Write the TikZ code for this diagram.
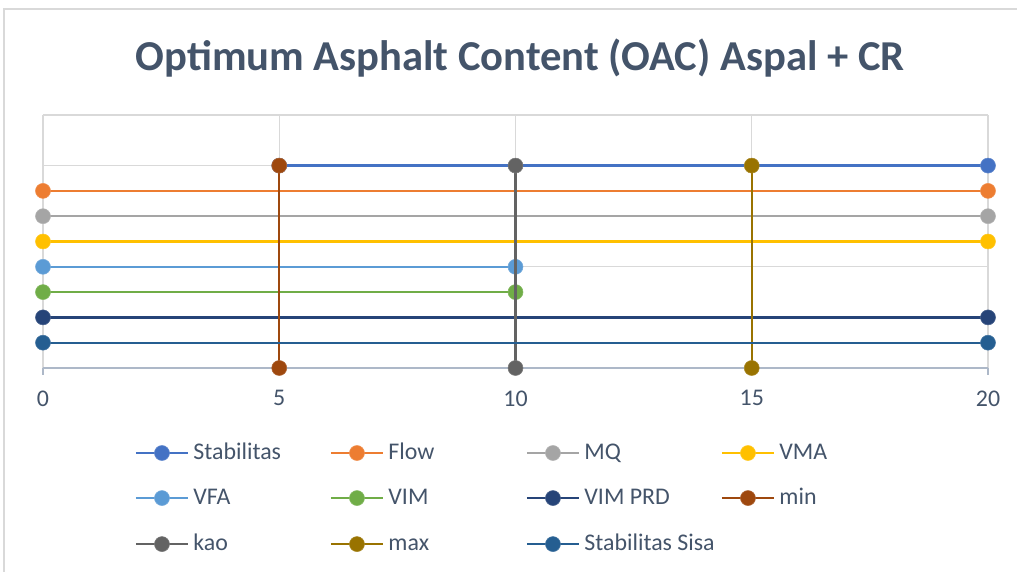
\documentclass[tikz,border=0pt]{standalone}
\usepackage{fontspec}
\setmainfont{Carlito}
\usetikzlibrary{positioning}

\definecolor{stabcol}{HTML}{4472C4}
\definecolor{flowcol}{HTML}{ED7D31}
\definecolor{mqcol}{HTML}{A5A5A5}
\definecolor{vmacol}{HTML}{FFC000}
\definecolor{vfacol}{HTML}{5B9BD5}
\definecolor{vimcol}{HTML}{70AD47}
\definecolor{prdcol}{HTML}{264478}
\definecolor{mincol}{HTML}{9E480E}
\definecolor{kaocol}{HTML}{636363}
\definecolor{maxcol}{HTML}{997300}
\definecolor{sisacol}{HTML}{255E91}
\definecolor{gridcol}{HTML}{D9D9D9}
\definecolor{axiscol}{HTML}{ADB8C8}
\definecolor{textcol}{HTML}{44546A}

\tikzset{
  dot/.style={circle, fill=#1, draw=#1!85!white, line width=0.4pt, inner sep=0pt, minimum size=0.375cm},
  serie/.style={draw=#1, line width=1.6pt},
  gridline/.style={draw=gridcol, line width=0.9pt},
  legtext/.style={anchor=west, inner sep=0pt, text height=2.4ex, text depth=0.5ex,
                  text=textcol, font=\fontsize{17}{20}\selectfont},
}

\begin{document}
\begin{tikzpicture}[x=1.18125cm, y=0.6325cm]
  \useasboundingbox (-0.910,-8.063) rectangle (20.614,14.545);
  % chart frame
  \draw[gridcol, line width=0.8pt] (-0.825,-8.063) -- (-0.825,14.19) -- (20.614,14.19);

  % Title
  \node[text=textcol, font=\fontsize{30.3}{36}\selectfont\bfseries] (title) at (10.095,12.25)
    {Optimum Asphalt Content (OAC) Aspal + CR};

  % Grid
  \foreach \gx in {0,5,10,15,20}
    \draw[gridline] (\gx,0) -- (\gx,10);
  \foreach \gy in {4,8,10}
    \draw[gridline] (0,\gy) -- (20,\gy);
  \draw[axiscol, line width=0.9pt] (0,0) -- (20,0);
  \foreach \gx in {0,5,10,15,20} {
    \draw[axiscol, line width=0.9pt] (\gx,0) -- (\gx,-0.28);
    \node[text=textcol, font=\fontsize{17}{20}\selectfont] (tick\gx) at (\gx,-1.2) {\gx};
  }

  % Series points
  \coordinate (stabA) at (5,8);   \coordinate (stabB) at (20,8);
  \coordinate (flowA) at (0,7);   \coordinate (flowB) at (20,7);
  \coordinate (mqA) at (0,6);     \coordinate (mqB) at (20,6);
  \coordinate (vmaA) at (0,5);    \coordinate (vmaB) at (20,5);
  \coordinate (vfaA) at (0,4);    \coordinate (vfaB) at (10,4);
  \coordinate (vimA) at (0,3);    \coordinate (vimB) at (10,3);
  \coordinate (prdA) at (0,2);    \coordinate (prdB) at (20,2);
  \coordinate (minA) at (5,0);    \coordinate (minB) at (5,8);
  \coordinate (kaoA) at (10,0);   \coordinate (kaoB) at (10,8);
  \coordinate (maxA) at (15,0);   \coordinate (maxB) at (15,8);
  \coordinate (sisaA) at (0,1);   \coordinate (sisaB) at (20,1);

  % Series lines and markers
  \foreach \s/\col in {stab/stabcol, flow/flowcol, mq/mqcol, vma/vmacol, vfa/vfacol,
                       vim/vimcol, prd/prdcol, min/mincol, kao/kaocol, max/maxcol, sisa/sisacol} {
    \draw[serie=\col] (\s A) -- (\s B);
    \node[dot=\col] (\s A dot) at (\s A) {};
    \node[dot=\col] (\s B dot) at (\s B) {};
  }

  % Legend
  \foreach \name/\col/\lx/\ly in {Stabilitas/stabcol/1.968/-3.36, Flow/flowcol/6.095/-3.36,
      MQ/mqcol/10.243/-3.36, VMA/vmacol/14.370/-3.36,
      VFA/vfacol/1.968/-5.14, VIM/vimcol/6.095/-5.14,
      VIM PRD/prdcol/10.243/-5.14, min/mincol/14.370/-5.14,
      kao/kaocol/1.968/-6.96, max/maxcol/6.095/-6.96,
      Stabilitas Sisa/sisacol/10.243/-6.96} {
    \coordinate (lg\col a) at (\lx,\ly);
    \coordinate (lg\col b) at (\lx+1.10,\ly);
    \draw[serie=\col] (lg\col a) -- (lg\col b);
    \node[dot=\col] (lg\col dot) at (\lx+0.55,\ly) {};
    \node[legtext] (lg\col text) at (\lx+1.21,\ly) {\name};
  }
\end{tikzpicture}
\end{document}
